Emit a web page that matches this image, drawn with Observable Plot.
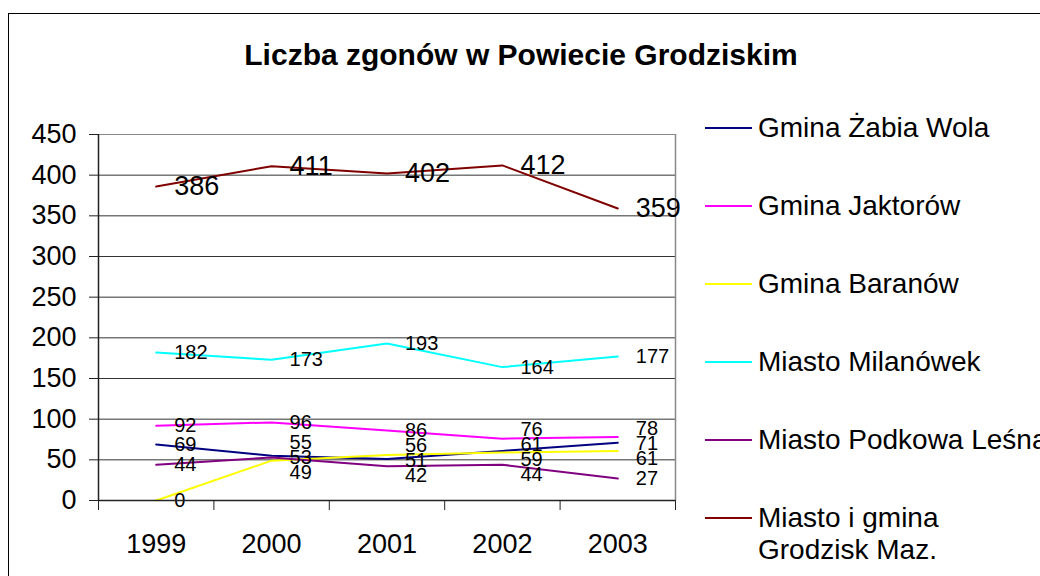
<!DOCTYPE html>
<html><head><meta charset="utf-8">
<script src="https://cdn.jsdelivr.net/npm/d3@7"></script>
<script src="https://cdn.jsdelivr.net/npm/@observablehq/plot@0.6"></script>
<style>
body{margin:0;background:#fff;}
#wrap{position:relative;width:1040px;height:576px;overflow:hidden;font-family:"Liberation Sans",Arial,sans-serif;color:#000;}
#frame{position:absolute;left:8px;top:13px;width:2000px;height:2000px;border-left:1px solid #000;border-top:1px solid #000;}
#title{position:absolute;left:0;width:1042px;top:38px;line-height:34px;text-align:center;font-weight:bold;font-size:30px;}
#chart{position:absolute;left:0;top:0;}
.leg{position:absolute;left:705px;font-size:28px;line-height:32px;white-space:nowrap;}
.leg .sw{position:absolute;left:0;top:15px;width:47px;height:2px;}
.leg .tx{position:absolute;left:53px;top:0;}
</style>
</head><body>
<div id="wrap">
  <div id="frame"></div>
  <div id="title">Liczba zgonów w Powiecie Grodziskim</div>
  <div id="chart"></div>
</div>
<script>
const years = [1999, 2000, 2001, 2002, 2003];
const seriesNames = ["Gmina Żabia Wola", "Gmina Jaktorów", "Gmina Baranów", "Miasto Milanówek", "Miasto Podkowa Leśna", "Miasto i gmina Grodzisk Maz."];
const legendLabels = ["Gmina Żabia Wola", "Gmina Jaktorów", "Gmina Baranów", "Miasto Milanówek", "Miasto Podkowa Leśna", "Miasto i gmina<br>Grodzisk Maz."];
const seriesColors = ["#000080", "#FF00FF", "#FFFF00", "#00FFFF", "#800080", "#800000"];
const zabiaWola = [69, 55, 51, 61, 71];
const jaktorow = [92, 96, 86, 76, 78];
const baranow = [0, 49, 56, 59, 61];
const milanowek = [182, 173, 193, 164, 177];
const podkowaLesna = [44, 53, 42, 44, 27];
const grodzisk = [386, 411, 402, 412, 359];
const yTicks = [0, 50, 100, 150, 200, 250, 300, 350, 400, 450];

const marginTop = 134, marginBottom = 76, height = 576;
const seriesValues = [zabiaWola, jaktorow, baranow, milanowek, podkowaLesna, grodzisk];
const rows = [];
seriesNames.forEach((name, i) => {
  years.forEach((yr, j) => rows.push({series: name, year: yr, value: seriesValues[i][j], labelY: seriesValues[i][j]}));
});
const bigName = seriesNames[5];
const edges = years.map(y => y - 0.5).concat([years[years.length - 1] + 0.5]);
const xMin = edges[0], xMax = edges[edges.length - 1];
const yMax = yTicks[yTicks.length - 1];

// spread small labels in each year column so they do not sit on top of each other
const minGap = 15 * yMax / (height - marginTop - marginBottom);
const small = rows.filter(d => d.series !== bigName);
years.forEach(yr => {
  const col = small.filter(d => d.year === yr).sort((a, b) => b.value - a.value);
  let groups = col.map(d => [d]);
  let changed = true;
  while (changed) {
    changed = false;
    // position each group centred on its mean
    groups.forEach(g => {
      const mean = d3.mean(g, d => d.value);
      g.forEach((d, k) => d.labelY = mean + ((g.length - 1) / 2 - k) * minGap);
    });
    for (let i = 0; i < groups.length - 1; i++) {
      const a = groups[i], b = groups[i + 1];
      if (a[a.length - 1].labelY - b[0].labelY < minGap - 1e-9) {
        groups.splice(i, 2, a.concat(b));
        changed = true;
        break;
      }
    }
  }
});

const chart = Plot.plot({
  width: 1040, height,
  marginLeft: 98, marginRight: 365, marginTop, marginBottom,
  style: {fontFamily: '"Liberation Sans", Arial, sans-serif', fontSize: "27px", background: "transparent", color: "#000", overflow: "visible"},
  x: {domain: [xMin, xMax]},
  y: {domain: [0, yMax]},
  color: {domain: seriesNames, range: seriesColors},
  marks: [
    Plot.gridY(yTicks.filter(t => t > 0 && t < yMax), {stroke: "#333", strokeOpacity: 1, strokeWidth: 1}),
    Plot.ruleY([yMax], {stroke: "#888", strokeWidth: 1.2}),
    Plot.ruleX([xMax], {stroke: "#888", strokeWidth: 1.5}),
    Plot.line(rows, {x: "year", y: "value", z: "series", stroke: "series", strokeWidth: 2}),
    Plot.text(small, {x: "year", y: "labelY", text: d => String(d.value), dx: 18, textAnchor: "start", fontSize: 20, fill: "#000"}),
    Plot.text(rows.filter(d => d.series === bigName), {x: "year", y: "value", text: d => String(d.value), dx: 18, textAnchor: "start", fontSize: 27, fill: "#000"}),
    Plot.ruleY([0], {stroke: "#222", strokeWidth: 1.5}),
    Plot.ruleX([xMin], {stroke: "#222", strokeWidth: 1.5}),
    Plot.axisY({ticks: yTicks, tickSize: 9, tickPadding: 13, fontSize: 27, label: null, tickFormat: d3.format("d"), stroke: "#222"}),
    Plot.axisX({ticks: years, tickSize: 0, tickPadding: 33, fontSize: 27, label: null, tickFormat: d3.format("d")}),
    Plot.axisX({ticks: edges, tickSize: 10, label: null, tickFormat: () => "", stroke: "#222"})
  ]
});
document.getElementById("chart").appendChild(chart);

const wrap = document.getElementById("wrap");
legendLabels.forEach((lab, i) => {
  const d = document.createElement("div");
  d.className = "leg";
  d.style.top = (128 + i * 78 - 16) + "px";
  d.innerHTML = `<span class="sw" style="background:${seriesColors[i]}"></span><span class="tx">${lab}</span>`;
  wrap.appendChild(d);
});
</script>
</body></html>
